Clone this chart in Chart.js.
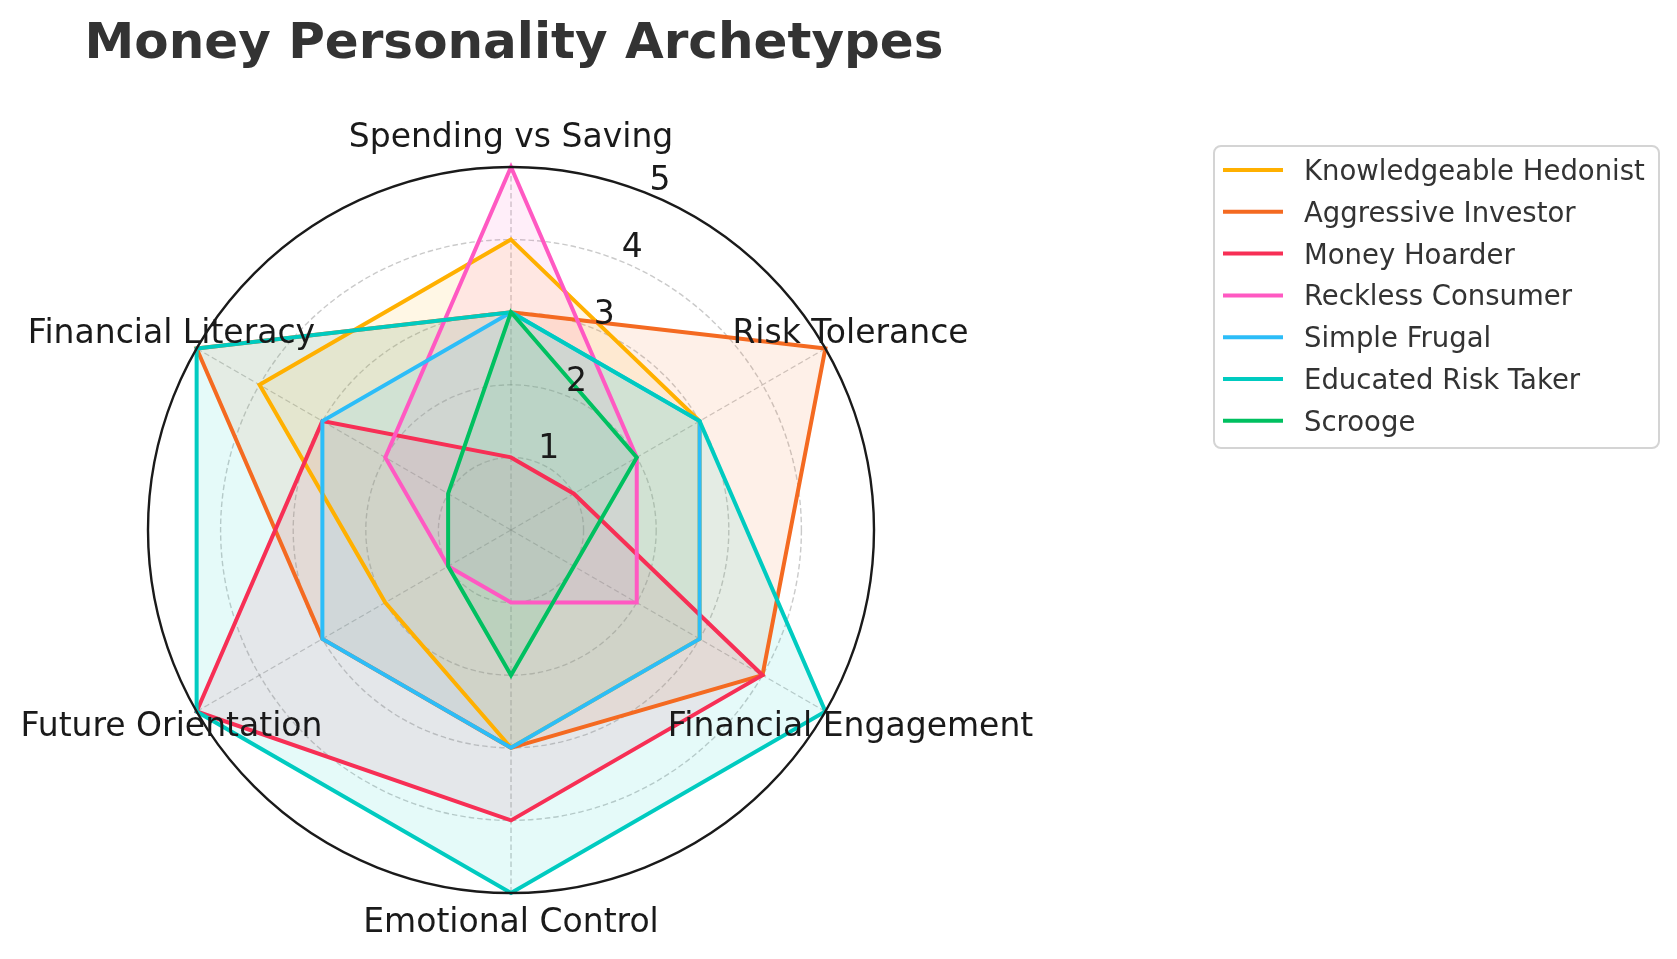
<!DOCTYPE html>
<html>
<head>
<meta charset="utf-8">
<script src="https://cdn.jsdelivr.net/npm/chart.js@4/dist/chart.umd.min.js"></script>
<style>
  html, body { margin: 0; padding: 0; background: #ffffff; overflow: hidden; }
  #wrap { width: 1677px; height: 959px; position: relative; }
</style>
</head>
<body>
<div id="wrap"><canvas id="c" width="1677" height="959"></canvas></div>
<script>
// ---- Data ----
const chartTitle = 'Money Personality Archetypes';
const categories = ['Spending vs Saving', 'Risk Tolerance', 'Financial Engagement', 'Emotional Control', 'Future Orientation', 'Financial Literacy'];
const tickValues = [1, 2, 3, 4, 5];
const seriesNames = ['Knowledgeable Hedonist', 'Aggressive Investor', 'Money Hoarder', 'Reckless Consumer', 'Simple Frugal', 'Educated Risk Taker', 'Scrooge'];
const knowledgeableHedonist = [4, 3, 3, 3, 2, 4];
const aggressiveInvestor    = [3, 5, 4, 3, 3, 5];
const moneyHoarder          = [1, 1, 4, 4, 5, 3];
const recklessConsumer      = [5, 2, 2, 1, 1, 2];
const simpleFrugal          = [3, 3, 3, 3, 3, 3];
const educatedRiskTaker     = [3, 3, 5, 5, 5, 5];
const scrooge               = [3, 2, 1, 2, 1, 1];
const seriesValues = [knowledgeableHedonist, aggressiveInvestor, moneyHoarder, recklessConsumer, simpleFrugal, educatedRiskTaker, scrooge];
const seriesColors = ['#FFB000', '#F46A21', '#F72F55', '#FF59C2', '#2CBDF8', '#00CBC0', '#00C060'];

// ---- helpers ----
function hexToRgba(hex, a) {
  const n = parseInt(hex.slice(1), 16);
  return `rgba(${(n >> 16) & 255},${(n >> 8) & 255},${n & 255},${a})`;
}
const FONT = '"DejaVu Sans", "Liberation Sans", sans-serif';

const datasets = seriesNames.map((name, i) => ({
  label: name,
  data: seriesValues[i],
  borderColor: seriesColors[i],
  backgroundColor: hexToRgba(seriesColors[i], 0.1),
  borderWidth: 4,
  fill: true,
  pointRadius: 0,
  pointHoverRadius: 0,
  tension: 0,
  order: seriesNames.length - i
}));

// ---- custom drawing plugin: title, axis labels, tick labels, legend ----
const decorPlugin = {
  id: 'decor',
  afterDraw(chart) {
    const ctx = chart.ctx;
    const s = chart.scales.r;
    ctx.save();

    // Title
    ctx.fillStyle = '#333333';
    ctx.font = `bold 50px ${FONT}`;
    ctx.textAlign = 'center';
    ctx.textBaseline = 'alphabetic';
    ctx.fillText(chartTitle, 514, 58);

    // Outer circle (spine)
    ctx.beginPath();
    ctx.strokeStyle = '#1a1a1a';
    ctx.lineWidth = 2.4;
    ctx.arc(s.xCenter, s.yCenter, s.getDistanceFromCenterForValue(s.max), 0, Math.PI * 2);
    ctx.stroke();

    // Axis (category) labels
    ctx.fillStyle = '#1a1a1a';
    ctx.font = `33px ${FONT}`;
    ctx.textAlign = 'center';
    categories.forEach((lab, i) => {
      const p = s.getPointPositionForValue(i, s.max * 1.08);
      ctx.fillText(lab, p.x, p.y + 9.5);
    });

    // Radial tick labels along 22.5 degrees
    const ang = 22.5 * Math.PI / 180;
    ctx.font = `33px ${FONT}`;
    tickValues.forEach(v => {
      const r = s.getDistanceFromCenterForValue(v);
      const x = s.xCenter + Math.sin(ang) * r + 10;
      const y = s.yCenter - Math.cos(ang) * r - 4.5;
      ctx.fillText(String(v), x, y);
    });

    // Legend
    const bx = 1214, by = 146, bw = 445, bh = 302, rad = 7;
    ctx.beginPath();
    ctx.moveTo(bx + rad, by);
    ctx.arcTo(bx + bw, by, bx + bw, by + bh, rad);
    ctx.arcTo(bx + bw, by + bh, bx, by + bh, rad);
    ctx.arcTo(bx, by + bh, bx, by, rad);
    ctx.arcTo(bx, by, bx + bw, by, rad);
    ctx.closePath();
    ctx.fillStyle = 'rgba(255,255,255,0.85)';
    ctx.fill();
    ctx.strokeStyle = '#d4d4d4';
    ctx.lineWidth = 2;
    ctx.stroke();

    ctx.font = `27.5px ${FONT}`;
    ctx.textAlign = 'left';
    chart.data.datasets.forEach((ds, i) => {
      const y = 170 + i * 41.8;
      ctx.beginPath();
      ctx.strokeStyle = ds.borderColor;
      ctx.lineWidth = 4;
      ctx.moveTo(1223, y);
      ctx.lineTo(1283, y);
      ctx.stroke();
      ctx.fillStyle = '#333333';
      ctx.fillText(ds.label, 1304, y + 10);
    });

    ctx.restore();
  }
};

new Chart(document.getElementById('c'), {
  type: 'radar',
  data: { labels: categories, datasets },
  options: {
    responsive: false,
    devicePixelRatio: 1,
    animation: false,
    layout: { padding: { left: 148, top: 167, right: 803, bottom: 66 } },
    plugins: {
      legend: { display: false },
      title: { display: false },
      tooltip: { enabled: false },
      filler: { drawTime: 'beforeDatasetsDraw' }
    },
    elements: { line: { borderJoinStyle: 'miter' } },
    scales: {
      r: {
        min: 0,
        max: 5,
        beginAtZero: true,
        ticks: { display: false, stepSize: 1 },
        pointLabels: { display: false },
        grid: {
          circular: true,
          color: (c) => c.index === 5 ? 'rgba(0,0,0,0)' : 'rgba(128,128,128,0.42)',
          lineWidth: 1.4
        },
        border: { dash: [5.5, 3] },
        angleLines: {
          display: true,
          color: 'rgba(128,128,128,0.42)',
          lineWidth: 1.4,
          borderDash: [5.5, 3]
        }
      }
    }
  },
  plugins: [decorPlugin]
});
</script>
</body>
</html>
